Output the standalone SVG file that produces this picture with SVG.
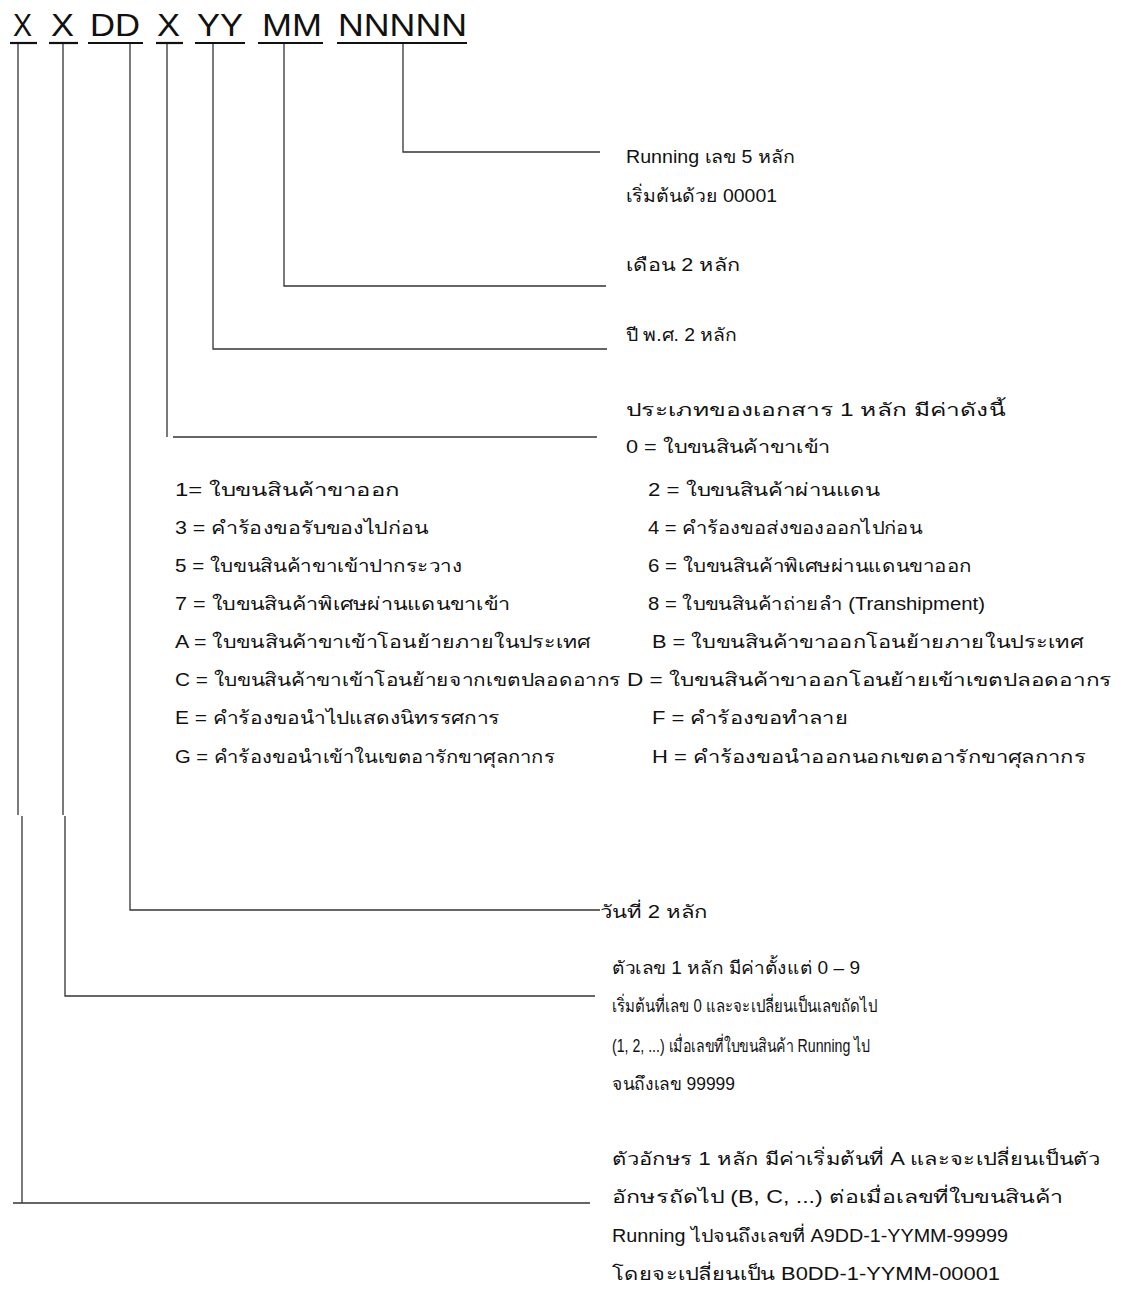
<svg xmlns="http://www.w3.org/2000/svg" width="1130" height="1308" viewBox="0 0 1130 1308">
<style>
  .code { font-family: "Liberation Sans", Arial, sans-serif; font-size: 32px; fill: #111; }
  .t { font-family: "Liberation Sans", "Noto Sans", "DejaVu Sans", sans-serif; font-size: 18px; fill: #111; }
  .ul { stroke: #111; stroke-width: 2.2; }
  .c { stroke: #333; stroke-width: 1.3; fill: none; }
</style>
<rect width="1130" height="1308" fill="#fff"/>

<g id="code">
  <g id="code-x1"><text class="code" x="13" y="36" textLength="19" lengthAdjust="spacingAndGlyphs">X</text><line class="ul" x1="10" y1="43" x2="37" y2="43"/></g>
  <g id="code-x2"><text class="code" x="51" y="36" textLength="23" lengthAdjust="spacingAndGlyphs">X</text><line class="ul" x1="49" y1="43" x2="78" y2="43"/></g>
  <g id="code-dd"><text class="code" x="90" y="36" textLength="50" lengthAdjust="spacingAndGlyphs">DD</text><line class="ul" x1="88" y1="43" x2="143" y2="43"/></g>
  <g id="code-x3"><text class="code" x="157" y="36" textLength="23" lengthAdjust="spacingAndGlyphs">X</text><line class="ul" x1="156" y1="43" x2="183" y2="43"/></g>
  <g id="code-yy"><text class="code" x="197" y="36" textLength="46" lengthAdjust="spacingAndGlyphs">YY</text><line class="ul" x1="195" y1="43" x2="245" y2="43"/></g>
  <g id="code-mm"><text class="code" x="262" y="36" textLength="60" lengthAdjust="spacingAndGlyphs">MM</text><line class="ul" x1="258" y1="43" x2="323" y2="43"/></g>
  <g id="code-nnnnn"><text class="code" x="338" y="36" textLength="129" lengthAdjust="spacingAndGlyphs">NNNNN</text><line class="ul" x1="337" y1="43" x2="467" y2="43"/></g>
</g>

<g id="connectors">
  <polyline class="c" points="403,44 403,152 600,152"/>
  <polyline class="c" points="284,44 284,286 606,286"/>
  <polyline class="c" points="213,44 213,349 607,349"/>
  <line class="c" x1="167" y1="44" x2="167" y2="437"/>
  <line class="c" x1="173" y1="437" x2="597" y2="437"/>
  <polyline class="c" points="130,44 130,910 600,910"/>
  <line class="c" x1="63" y1="44" x2="63" y2="815"/>
  <polyline class="c" points="65,816 65,996 595,996"/>
  <line class="c" x1="18" y1="44" x2="18" y2="815"/>
  <line class="c" x1="22" y1="816" x2="22" y2="1203"/>
  <line class="c" x1="13" y1="1203" x2="590" y2="1203"/>
</g>

<g id="label-running">
  <text class="t" x="626" y="163" textLength="169" lengthAdjust="spacingAndGlyphs">Running เลข 5 หลัก</text>
  <text class="t" x="626" y="202" textLength="151" lengthAdjust="spacingAndGlyphs">เริ่มต้นด้วย 00001</text>
</g>
<g id="label-month">
  <text class="t" x="626" y="271" textLength="114" lengthAdjust="spacingAndGlyphs">เดือน 2 หลัก</text>
</g>
<g id="label-year">
  <text class="t" x="626" y="341" textLength="111" lengthAdjust="spacingAndGlyphs">ปี พ.ศ. 2 หลัก</text>
</g>
<g id="label-doctype">
  <text class="t" x="626" y="416" textLength="379" lengthAdjust="spacingAndGlyphs">ประเภทของเอกสาร 1 หลัก มีค่าดังนี้</text>
  <text class="t" x="626" y="453" textLength="204" lengthAdjust="spacingAndGlyphs">0 = ใบขนสินค้าขาเข้า</text>
  <text class="t" x="175" y="496" textLength="225" lengthAdjust="spacingAndGlyphs">1= ใบขนสินค้าขาออก</text>
  <text class="t" x="648" y="496" textLength="232" lengthAdjust="spacingAndGlyphs">2 = ใบขนสินค้าผ่านแดน</text>
  <text class="t" x="175" y="534" textLength="253" lengthAdjust="spacingAndGlyphs">3 = คำร้องขอรับของไปก่อน</text>
  <text class="t" x="648" y="534" textLength="274" lengthAdjust="spacingAndGlyphs">4 = คำร้องขอส่งของออกไปก่อน</text>
  <text class="t" x="175" y="572" textLength="287" lengthAdjust="spacingAndGlyphs">5 = ใบขนสินค้าขาเข้าปากระวาง</text>
  <text class="t" x="648" y="572" textLength="324" lengthAdjust="spacingAndGlyphs">6 = ใบขนสินค้าพิเศษผ่านแดนขาออก</text>
  <text class="t" x="175" y="610" textLength="335" lengthAdjust="spacingAndGlyphs">7 = ใบขนสินค้าพิเศษผ่านแดนขาเข้า</text>
  <text class="t" x="648" y="610" textLength="337" lengthAdjust="spacingAndGlyphs">8 = ใบขนสินค้าถ่ายลำ (Transhipment)</text>
  <text class="t" x="175" y="648" textLength="415" lengthAdjust="spacingAndGlyphs">A = ใบขนสินค้าขาเข้าโอนย้ายภายในประเทศ</text>
  <text class="t" x="652" y="648" textLength="431" lengthAdjust="spacingAndGlyphs">B = ใบขนสินค้าขาออกโอนย้ายภายในประเทศ</text>
  <text class="t" x="175" y="686" textLength="446" lengthAdjust="spacingAndGlyphs">C = ใบขนสินค้าขาเข้าโอนย้ายจากเขตปลอดอากร</text>
  <text class="t" x="627" y="686" textLength="485" lengthAdjust="spacingAndGlyphs">D = ใบขนสินค้าขาออกโอนย้ายเข้าเขตปลอดอากร</text>
  <text class="t" x="175" y="724" textLength="325" lengthAdjust="spacingAndGlyphs">E = คำร้องขอนำไปแสดงนิทรรศการ</text>
  <text class="t" x="652" y="724" textLength="196" lengthAdjust="spacingAndGlyphs">F = คำร้องขอทำลาย</text>
  <text class="t" x="175" y="763" textLength="380" lengthAdjust="spacingAndGlyphs">G = คำร้องขอนำเข้าในเขตอารักขาศุลกากร</text>
  <text class="t" x="652" y="763" textLength="434" lengthAdjust="spacingAndGlyphs">H = คำร้องขอนำออกนอกเขตอารักขาศุลกากร</text>
</g>
<g id="label-day">
  <text class="t" x="600" y="918" textLength="108" lengthAdjust="spacingAndGlyphs">วันที่ 2 หลัก</text>
</g>
<g id="label-digit">
  <text class="t" x="612" y="974" textLength="248" lengthAdjust="spacingAndGlyphs">ตัวเลข 1 หลัก มีค่าตั้งแต่ 0 – 9</text>
  <text class="t" x="612" y="1012" textLength="265" lengthAdjust="spacingAndGlyphs">เริ่มต้นที่เลข 0 และจะเปลี่ยนเป็นเลขถัดไป</text>
  <text class="t" x="612" y="1052" textLength="258" lengthAdjust="spacingAndGlyphs">(1, 2, ...) เมื่อเลขที่ใบขนสินค้า Running ไป</text>
  <text class="t" x="612" y="1090" textLength="123" lengthAdjust="spacingAndGlyphs">จนถึงเลข 99999</text>
</g>
<g id="label-letter">
  <text class="t" x="612" y="1165" textLength="488" lengthAdjust="spacingAndGlyphs">ตัวอักษร 1 หลัก มีค่าเริ่มต้นที่ A และจะเปลี่ยนเป็นตัว</text>
  <text class="t" x="612" y="1203" textLength="451" lengthAdjust="spacingAndGlyphs">อักษรถัดไป (B, C, ...) ต่อเมื่อเลขที่ใบขนสินค้า</text>
  <text class="t" x="612" y="1242" textLength="396" lengthAdjust="spacingAndGlyphs">Running ไปจนถึงเลขที่ A9DD-1-YYMM-99999</text>
  <text class="t" x="612" y="1280" textLength="388" lengthAdjust="spacingAndGlyphs">โดยจะเปลี่ยนเป็น B0DD-1-YYMM-00001</text>
</g>
</svg>
